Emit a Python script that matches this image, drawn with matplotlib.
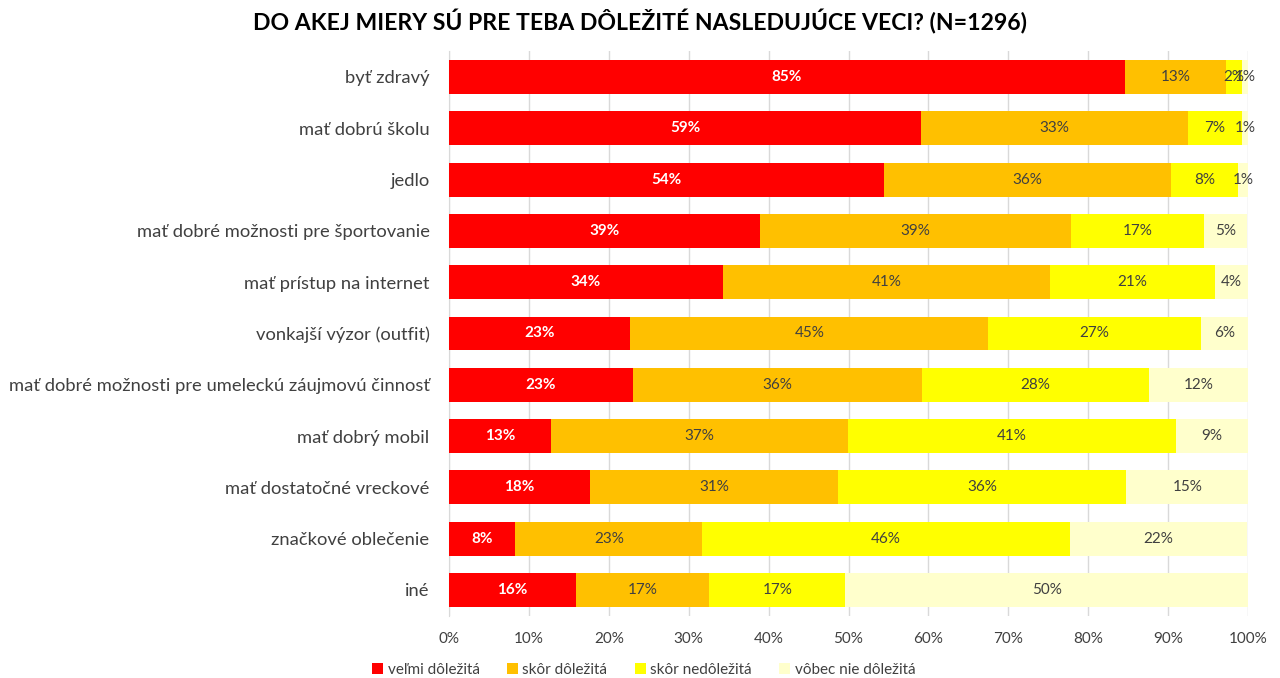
import matplotlib
matplotlib.use("Agg")
import matplotlib.pyplot as plt
import numpy as np
from matplotlib.patches import Patch

plt.rcParams['font.family'] = ['Lato', 'DejaVu Sans']

categories = [
    "byť zdravý",
    "mať dobrú školu",
    "jedlo",
    "mať dobré možnosti pre športovanie",
    "mať prístup na internet",
    "vonkajší výzor (outfit)",
    "mať dobré možnosti pre umeleckú záujmovú činnosť",
    "mať dobrý mobil",
    "mať dostatočné vreckové",
    "značkové oblečenie",
    "iné",
]
velmi = [84.6, 59.1, 54.4, 38.9, 34.3, 22.7, 23.0, 12.8, 17.6, 8.3, 15.9]
skor_dol = [12.6, 33.4, 36.0, 38.9, 40.9, 44.8, 36.2, 37.1, 31.1, 23.4, 16.7]
skor_nedol = [2.0, 6.7, 8.3, 16.7, 20.7, 26.6, 28.4, 41.1, 36.0, 46.0, 17.0]
vobec = [0.8, 0.8, 1.3, 5.4, 4.1, 6.0, 12.4, 9.0, 15.4, 22.2, 50.4]

series_names = ["veľmi dôležitá", "skôr dôležitá", "skôr nedôležitá", "vôbec nie dôležitá"]
colors = ["#FF0000", "#FFC000", "#FFFF00", "#FFFFCC"]
label_colors = ["white", "#404040", "#404040", "#404040"]
xticks = [0, 10, 20, 30, 40, 50, 60, 70, 80, 90, 100]

fig = plt.figure(figsize=(12.8, 6.78), dpi=100)
ax = fig.add_axes([0.3508, 0.092, 0.975 - 0.3508, 0.9243 - 0.092])

y = np.arange(len(categories))
left = np.zeros(len(categories))
for vals, col, lc in zip([velmi, skor_dol, skor_nedol, vobec], colors, label_colors):
    vals = np.array(vals)
    ax.barh(y, vals, left=left, height=0.66, color=col, zorder=3)
    for yi, v, l in zip(y, vals, left):
        ax.text(l + v / 2, yi, f"{round(v):d}%", ha="center", va="center",
                fontsize=11, color=lc, zorder=4,
                fontweight="bold" if lc == "white" else "normal")
    left += vals

ax.set_xlim(0, 100)
ax.set_ylim(len(categories) - 0.5, -0.5)
ax.set_yticks(y)
ax.set_yticklabels(categories, fontsize=13.2, color="#404040")
ax.set_xticks(xticks)
ax.set_xticklabels([f"{t}%" for t in xticks], fontsize=11, color="#404040")
ax.tick_params(axis="both", length=0)
ax.tick_params(axis="y", pad=14)
ax.tick_params(axis="x", pad=12)
ax.grid(axis="x", color="#D9D9D9", linewidth=1, zorder=0)
for s in ["top", "right", "bottom"]:
    ax.spines[s].set_visible(False)
ax.spines["left"].set_color("#D9D9D9")
ax.spines["left"].set_zorder(2)

fig.text(0.5, 0.968, "DO AKEJ MIERY SÚ PRE TEBA DÔLEŽITÉ NASLEDUJÚCE VECI? (N=1296)",
         ha="center", va="center", fontsize=16.6, fontweight="bold", color="black")

handles = [Patch(facecolor=c, edgecolor="none") for c in colors]
fig.legend(handles, series_names, loc="center", bbox_to_anchor=(0.503, 0.012),
           ncol=4, frameon=False, fontsize=11, handlelength=0.7, handleheight=0.7,
           columnspacing=1.8, handletextpad=0.3, labelcolor="#404040")

fig.savefig("out.png", dpi=100)
